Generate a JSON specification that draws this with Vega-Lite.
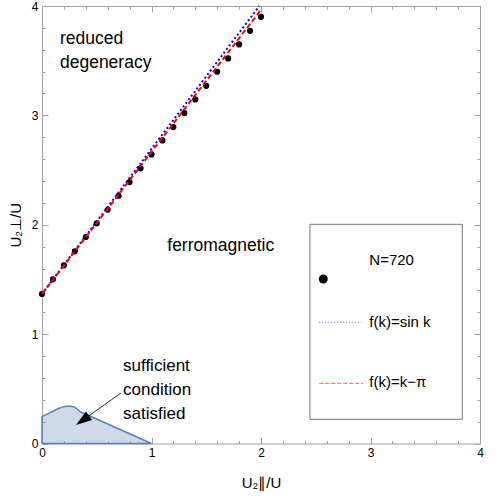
{
  "$schema": "https://vega.github.io/schema/vega-lite/v6.json",
  "width": 438,
  "height": 437.5,
  "autosize": "none",
  "padding": {"left": 42, "top": 6, "right": 18, "bottom": 54},
  "background": "white",
  "config": {
    "view": {"stroke": null},
    "font": "Liberation Sans",
    "axis": {"grid": false, "domainColor": "#a0a0a0", "tickColor": "#a0a0a0", "labelColor": "black", "labelFont": "Liberation Sans", "labelFontSize": 12, "titleFont": "Liberation Sans", "titleFontWeight": "normal", "titleColor": "black", "titleFontSize": 15}
  },
  "datasets": {
    "points": [
      {"x": 0.0, "y": 1.367}, {"x": 0.1, "y": 1.501}, {"x": 0.2, "y": 1.629}, {"x": 0.3, "y": 1.757},
      {"x": 0.4, "y": 1.888}, {"x": 0.5, "y": 2.013}, {"x": 0.6, "y": 2.137}, {"x": 0.7, "y": 2.265},
      {"x": 0.8, "y": 2.390}, {"x": 0.9, "y": 2.516}, {"x": 1.0, "y": 2.643}, {"x": 1.1, "y": 2.771},
      {"x": 1.2, "y": 2.893}, {"x": 1.3, "y": 3.021}, {"x": 1.4, "y": 3.146}, {"x": 1.5, "y": 3.270},
      {"x": 1.6, "y": 3.399}, {"x": 1.7, "y": 3.521}, {"x": 1.8, "y": 3.649}, {"x": 1.9, "y": 3.773},
      {"x": 2.0, "y": 3.901}
    ],
    "blue": [{"x": 0, "y": 1.367}, {"x": 1.985, "y": 4.0}],
    "red": [{"x": 0, "y": 1.367}, {"x": 2.0, "y": 3.965}],
    "region": [
      {"x": 0, "y": 0.245}, {"x": 0.15, "y": 0.32}, {"x": 0.2, "y": 0.337}, {"x": 0.25, "y": 0.343},
      {"x": 0.3, "y": 0.333}, {"x": 0.35, "y": 0.29}, {"x": 1.0, "y": 0.0}
    ],
    "labels": [
      {"x": 0.164, "y": 3.649, "text": "reduced\ndegeneracy", "size": 17.5},
      {"x": 1.144, "y": 1.762, "text": "ferromagnetic", "size": 17.5},
      {"x": 0.74, "y": 0.665, "text": "sufficient\ncondition\nsatisfied", "size": 17}
    ],
    "arrow": [{"x": 0.721, "y": 0.462, "x2": 0.370, "y2": 0.211}],
    "arrowhead": [{"x": 0.370, "y": 0.211}],
    "legendbox": [{"x": 2.447, "x2": 3.838, "y": 2.004, "y2": 0.221}],
    "legendpoint": [{"x": 2.569, "y": 1.504}],
    "legendtext": [
      {"x": 2.989, "y": 1.677, "text": "N=720"},
      {"x": 2.989, "y": 1.113, "text": "f(k)=sin k"},
      {"x": 2.989, "y": 0.562, "text": "f(k)=k\u2212\u03c0"}
    ],
    "legendblue": [{"x": 2.532, "y": 1.108}, {"x": 2.92, "y": 1.108}],
    "legendred": [{"x": 2.532, "y": 0.55}, {"x": 2.934, "y": 0.55}]
  },
  "resolve": {"axis": {"x": "independent", "y": "independent"}},
  "layer": [
    {
      "data": {"name": "region"},
      "mark": {"type": "area", "fill": "#5e81b5", "fillOpacity": 0.3, "stroke": "#5e81b5", "strokeWidth": 1.5},
      "encoding": {
        "x": {"field": "x", "type": "quantitative", "scale": {"domain": [0, 4], "nice": false, "zero": false},
              "axis": {"orient": "bottom", "values": [0, 1, 2, 3, 4], "tickSize": -6, "labelPadding": 10, "title": "U\u2082\u2225/U", "titlePadding": 17, "labelFlush": false}},
        "y": {"field": "y", "type": "quantitative", "scale": {"domain": [0, 4], "nice": false, "zero": false},
              "axis": {"orient": "left", "values": [0, 1, 2, 3, 4], "tickSize": -6, "labelPadding": 10, "title": "U\u2082\u22a5/U", "titlePadding": 8, "labelFlush": false}}
      }
    },
    {
      "data": {"name": "points"},
      "mark": {"type": "circle", "color": "black", "opacity": 1, "size": 38},
      "encoding": {
        "x": {"field": "x", "type": "quantitative",
              "axis": {"orient": "bottom", "values": [0.2, 0.4, 0.6, 0.8, 1.2, 1.4, 1.6, 1.8, 2.2, 2.4, 2.6, 2.8, 3.2, 3.4, 3.6, 3.8], "tickSize": -3, "labels": false, "domain": false, "title": null}},
        "y": {"field": "y", "type": "quantitative",
              "axis": {"orient": "left", "values": [0.2, 0.4, 0.6, 0.8, 1.2, 1.4, 1.6, 1.8, 2.2, 2.4, 2.6, 2.8, 3.2, 3.4, 3.6, 3.8], "tickSize": -3, "labels": false, "domain": false, "title": null}}
      }
    },
    {
      "data": {"name": "blue"},
      "mark": {"type": "line", "color": "#0000ff", "strokeWidth": 2, "strokeDash": [2, 2.5]},
      "encoding": {
        "x": {"field": "x", "type": "quantitative",
              "axis": {"orient": "top", "values": [0, 1, 2, 3, 4], "tickSize": -6, "labels": false, "title": null}},
        "y": {"field": "y", "type": "quantitative",
              "axis": {"orient": "right", "values": [0, 1, 2, 3, 4], "tickSize": -6, "labels": false, "title": null}}
      }
    },
    {
      "data": {"name": "red"},
      "mark": {"type": "line", "color": "#ff0000", "strokeWidth": 2, "strokeDash": [5, 3]},
      "encoding": {
        "x": {"field": "x", "type": "quantitative",
              "axis": {"orient": "top", "values": [0.2, 0.4, 0.6, 0.8, 1.2, 1.4, 1.6, 1.8, 2.2, 2.4, 2.6, 2.8, 3.2, 3.4, 3.6, 3.8], "tickSize": -3, "labels": false, "domain": false, "title": null}},
        "y": {"field": "y", "type": "quantitative",
              "axis": {"orient": "right", "values": [0.2, 0.4, 0.6, 0.8, 1.2, 1.4, 1.6, 1.8, 2.2, 2.4, 2.6, 2.8, 3.2, 3.4, 3.6, 3.8], "tickSize": -3, "labels": false, "domain": false, "title": null}}
      }
    },
    {
      "data": {"name": "labels"},
      "mark": {"type": "text", "align": "left", "baseline": "alphabetic", "lineBreak": "\n", "lineHeight": 24, "font": "Liberation Sans", "color": "black"},
      "encoding": {
        "x": {"field": "x", "type": "quantitative", "axis": null},
        "y": {"field": "y", "type": "quantitative", "axis": null},
        "text": {"field": "text"},
        "size": {"field": "size", "type": "quantitative", "scale": null}
      }
    },
    {
      "data": {"name": "arrow"},
      "mark": {"type": "rule", "color": "black", "strokeWidth": 0.8},
      "encoding": {
        "x": {"field": "x", "type": "quantitative", "axis": null},
        "y": {"field": "y", "type": "quantitative", "axis": null},
        "x2": {"field": "x2"},
        "y2": {"field": "y2"}
      }
    },
    {
      "data": {"name": "arrowhead"},
      "mark": {"type": "point", "shape": "M0,-1L0.65,1L-0.65,1Z", "size": 256, "angle": 235, "filled": true, "color": "black", "opacity": 1},
      "encoding": {
        "x": {"field": "x", "type": "quantitative", "axis": null},
        "y": {"field": "y", "type": "quantitative", "axis": null}
      }
    },
    {
      "data": {"name": "legendbox"},
      "mark": {"type": "rect", "fill": null, "stroke": "#777777", "strokeWidth": 1},
      "encoding": {
        "x": {"field": "x", "type": "quantitative", "axis": null},
        "y": {"field": "y", "type": "quantitative", "axis": null},
        "x2": {"field": "x2"},
        "y2": {"field": "y2"}
      }
    },
    {
      "data": {"name": "legendpoint"},
      "mark": {"type": "circle", "color": "black", "opacity": 1, "size": 80},
      "encoding": {
        "x": {"field": "x", "type": "quantitative", "axis": null},
        "y": {"field": "y", "type": "quantitative", "axis": null}
      }
    },
    {
      "data": {"name": "legendblue"},
      "mark": {"type": "line", "color": "#3333ff", "strokeWidth": 1, "strokeDash": [1, 2], "opacity": 0.8},
      "encoding": {
        "x": {"field": "x", "type": "quantitative", "axis": null},
        "y": {"field": "y", "type": "quantitative", "axis": null}
      }
    },
    {
      "data": {"name": "legendred"},
      "mark": {"type": "line", "color": "#ff3333", "strokeWidth": 1, "strokeDash": [4, 2], "opacity": 0.8},
      "encoding": {
        "x": {"field": "x", "type": "quantitative", "axis": null},
        "y": {"field": "y", "type": "quantitative", "axis": null}
      }
    },
    {
      "data": {"name": "legendtext"},
      "mark": {"type": "text", "align": "left", "baseline": "middle", "fontSize": 15, "font": "Liberation Sans", "color": "black"},
      "encoding": {
        "x": {"field": "x", "type": "quantitative", "axis": null},
        "y": {"field": "y", "type": "quantitative", "axis": null},
        "text": {"field": "text"}
      }
    }
  ]
}
